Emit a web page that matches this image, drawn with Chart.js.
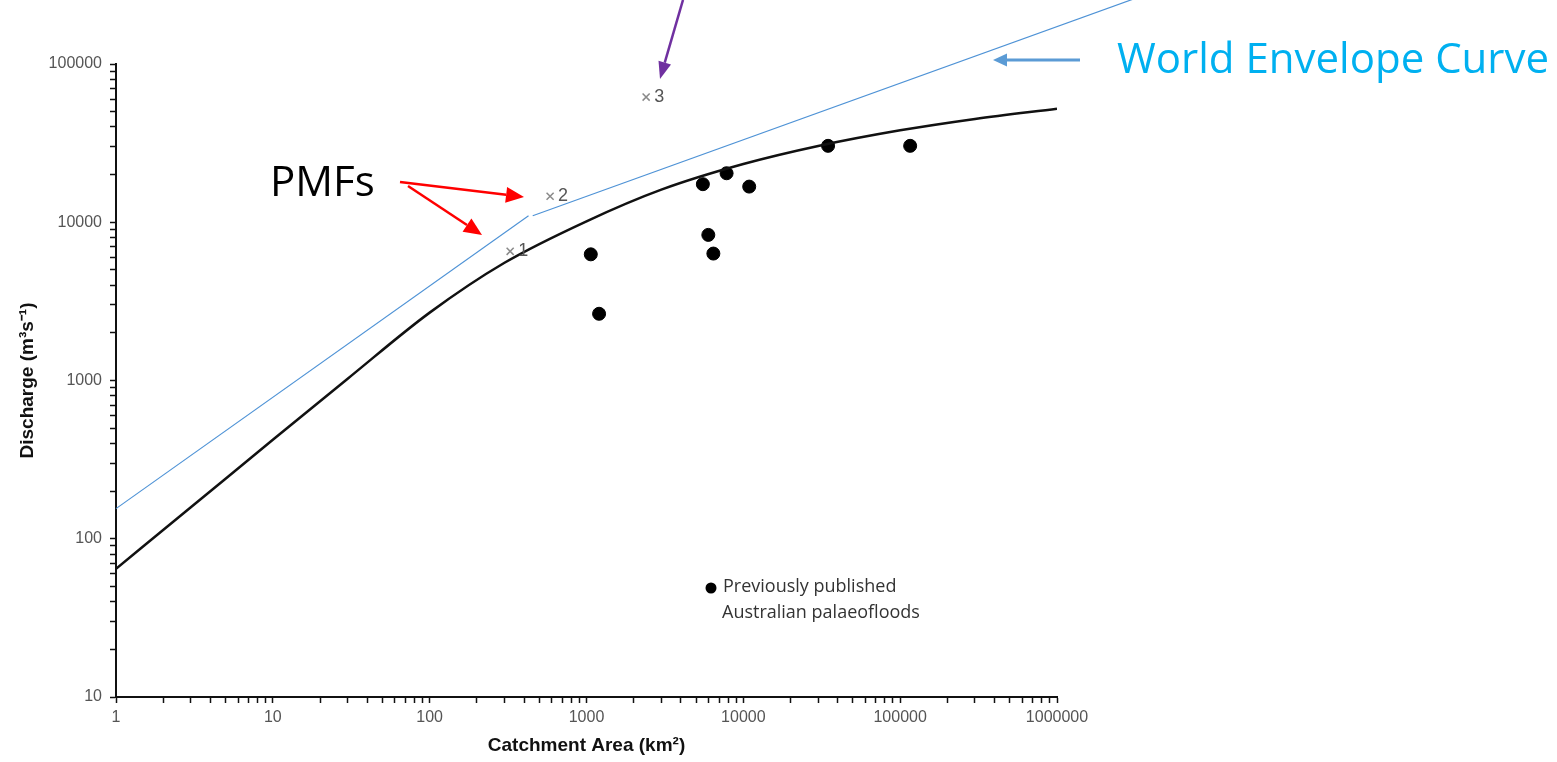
<!DOCTYPE html>
<html>
<head>
<meta charset="utf-8">
<script src="https://cdn.jsdelivr.net/npm/chart.js@4.4.1/dist/chart.umd.min.js"></script>
<style>
  html, body { margin: 0; padding: 0; background: #fff; }
  #wrap { width: 1557px; height: 762px; position: relative; }
</style>
</head>
<body>
<div id="wrap"><canvas id="floodChart"></canvas></div>
<script>
// Envelope curve for Australian floods (black line)
const curveArea = [1, 3, 10, 30, 100, 300, 1000, 3000, 10000, 30000, 100000, 300000, 1000000];
const curveDischarge = [64.6, 158, 422, 1026, 2685, 5546, 10140, 16070, 23330, 30340, 38100, 44980, 52240];

// World envelope curve (blue), drawn in two pieces with a small gap;
// the upper piece runs on past the top-right corner of the plot
const worldLowArea = [1, 427];
const worldLowDischarge = [155, 11000];
const worldHighArea = [454, 3060000];
const worldHighDischarge = [11000, 257000];

// PMFs (grey crosses)
const pmfArea = [326, 586, 2400];
const pmfDischarge = [6550, 14600, 61800];
const pmfLabels = ['1', '2', '3'];

// Previously published Australian palaeofloods (black dots)
const paleoArea = [1065, 1203, 5520, 7820, 10900, 5980, 6440, 34700, 115800];
const paleoDischarge = [6270, 2640, 17400, 20400, 16800, 8320, 6340, 30400, 30400];

// tick labels
const xTickLabels = ['1', '10', '100', '1000', '10000', '100000', '1000000'];
const yTickLabels = ['10', '100', '1000', '10000', '100000'];

const sans = "'Liberation Sans', Arial, sans-serif";
const office = "'Open Sans', 'Noto Sans', sans-serif";

// minor + major tick positions for a log axis
function logTicks(min, max) {
  const out = [];
  for (let d = min; d < max; d *= 10) {
    for (let m = 1; m < 10; m++) out.push({ value: m * d });
  }
  out.push({ value: max });
  return out;
}

function toPoints(xs, ys) {
  return xs.map((x, i) => ({ x: x, y: ys[i] }));
}

function drawArrow(ctx, x1, y1, x2, y2, color, width, headLen, headHalf) {
  const ang = Math.atan2(y2 - y1, x2 - x1);
  const bx = x2 - headLen * Math.cos(ang);
  const by = y2 - headLen * Math.sin(ang);
  ctx.save();
  ctx.strokeStyle = color;
  ctx.fillStyle = color;
  ctx.lineWidth = width;
  ctx.beginPath();
  ctx.moveTo(x1, y1);
  ctx.lineTo(bx, by);
  ctx.stroke();
  ctx.beginPath();
  ctx.moveTo(x2, y2);
  ctx.lineTo(bx + headHalf * Math.sin(ang), by - headHalf * Math.cos(ang));
  ctx.lineTo(bx - headHalf * Math.sin(ang), by + headHalf * Math.cos(ang));
  ctx.closePath();
  ctx.fill();
  ctx.restore();
}

// extra text, legend and arrows on top of the plot
const notes = {
  id: 'notes',
  afterDatasetsDraw(chart) {
    const ctx = chart.ctx;
    const xs = chart.scales.x, ys = chart.scales.y;
    ctx.save();

    // numbers beside the PMF crosses
    ctx.font = '18px ' + sans;
    ctx.fillStyle = '#555';
    ctx.textBaseline = 'middle';
    ctx.textAlign = 'left';
    pmfLabels.forEach((t, i) => {
      ctx.fillText(t, xs.getPixelForValue(pmfArea[i]) + 8, ys.getPixelForValue(pmfDischarge[i]));
    });

    // legend
    ctx.fillStyle = '#000';
    ctx.beginPath();
    ctx.arc(711, 588, 5.5, 0, Math.PI * 2);
    ctx.fill();
    ctx.font = '18px ' + office;
    ctx.fillStyle = '#333';
    ctx.fillText('Previously published', 723, 587);
    ctx.fillText('Australian palaeofloods', 722, 613);

    // big callouts
    ctx.font = '42px ' + office;
    ctx.fillStyle = '#000';
    ctx.fillText('PMFs', 270, 184);
    ctx.fillStyle = '#00b0f0';
    ctx.fillText('World Envelope Curve', 1117, 61);
    ctx.restore();

    drawArrow(ctx, 400, 182, 524, 197, '#ff0000', 2.5, 18, 8);
    drawArrow(ctx, 408, 186, 482, 235, '#ff0000', 2.5, 18, 8);
    drawArrow(ctx, 683, 0, 660, 79, '#7030a0', 2.5, 17, 6.5);
    drawArrow(ctx, 1080, 60, 993, 60, '#5b9bd5', 3, 14, 6.5);
  }
};

const ctx = document.getElementById('floodChart').getContext('2d');
const floodChart = new Chart(ctx, {
  type: 'scatter',
  data: {
    datasets: [
      {
        label: 'Australian envelope',
        data: toPoints(curveArea, curveDischarge),
        showLine: true,
        borderColor: '#111',
        borderWidth: 2.5,
        pointRadius: 0,
        cubicInterpolationMode: 'monotone'
      },
      {
        label: 'World envelope (low)',
        data: toPoints(worldLowArea, worldLowDischarge),
        showLine: true,
        borderColor: '#4f93d6',
        borderWidth: 1.2,
        pointRadius: 0,
        clip: false
      },
      {
        label: 'World envelope (high)',
        data: toPoints(worldHighArea, worldHighDischarge),
        showLine: true,
        borderColor: '#4f93d6',
        borderWidth: 1.2,
        pointRadius: 0,
        clip: false
      },
      {
        label: 'PMFs',
        data: toPoints(pmfArea, pmfDischarge),
        pointStyle: 'crossRot',
        pointRadius: 5,
        borderColor: '#8a8a8a',
        borderWidth: 1.5
      },
      {
        label: 'Previously published Australian palaeofloods',
        data: toPoints(paleoArea, paleoDischarge),
        pointRadius: 6.5,
        backgroundColor: '#000',
        borderColor: '#000'
      }
    ]
  },
  options: {
    animation: false,
    responsive: true,
    maintainAspectRatio: false,
    layout: { padding: { left: 0, top: 64, right: 500, bottom: 0 } },
    plugins: { legend: { display: false }, tooltip: { enabled: false } },
    scales: {
      x: {
        type: 'logarithmic',
        min: 1,
        max: 1000000,
        afterBuildTicks: axis => { axis.ticks = logTicks(1, 1000000); },
        afterFit: axis => { axis.height = 65; },
        border: { color: '#111', width: 2 },
        grid: { drawOnChartArea: false, tickLength: 6, color: '#111', tickWidth: 1.5 },
        ticks: {
          autoSkip: false,
          maxRotation: 0,
          padding: 5,
          color: '#555',
          font: { family: sans, size: 16 },
          callback: v => xTickLabels.includes(String(Math.round(v))) ? String(Math.round(v)) : ''
        },
        title: {
          display: true,
          text: 'Catchment Area (km²)',
          color: '#111',
          font: { family: sans, size: 19, weight: 'bold' },
          padding: { top: 0, bottom: 5 }
        }
      },
      y: {
        type: 'logarithmic',
        min: 10,
        max: 100000,
        afterBuildTicks: axis => { axis.ticks = logTicks(10, 100000); },
        afterFit: axis => { axis.width = 116; },
        border: { color: '#111', width: 2 },
        grid: { drawOnChartArea: false, tickLength: 6, color: '#111', tickWidth: 1.5 },
        ticks: {
          autoSkip: false,
          padding: 8,
          color: '#555',
          font: { family: sans, size: 16 },
          callback: v => yTickLabels.includes(String(Math.round(v))) ? String(Math.round(v)) : ''
        },
        title: {
          display: true,
          text: 'Discharge (m³s⁻¹)',
          color: '#111',
          font: { family: sans, size: 19, weight: 'bold' },
          padding: { top: 16, bottom: 0 }
        }
      }
    }
  },
  plugins: [notes]
});
</script>
</body>
</html>
